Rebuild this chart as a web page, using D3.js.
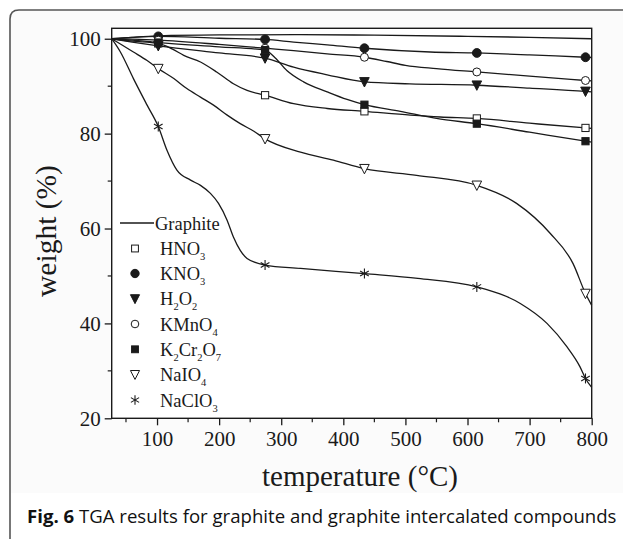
<!DOCTYPE html>
<html><head><meta charset="utf-8">
<script src="https://cdn.jsdelivr.net/npm/d3@7"></script>
<style>body{margin:0;background:#fff}svg{display:block}</style>
</head><body>
<svg id="c" width="623" height="539"></svg>
<script>
// ---------- data ----------
const xTicks = [100, 200, 300, 400, 500, 600, 700, 800];
const yTicks = [20, 40, 60, 80, 100];
const markerT = [102, 274, 434, 615, 790];

const graphiteCurve = [[27,100],[60,100.3],[102,100.6],[200,100.8],[330,100.85],[450,100.75],[600,100.5],[700,100.3],[800,100.0]];
const hno3Curve = [[27,100],[60,99.5],[102,99.0],[125,97.8],[143,96.5],[170,95.1],[196,93.0],[223,90.5],[245,89.1],[274,88.1],[320,86.3],[374,85.3],[434,84.7],[508,83.9],[556,83.5],[615,83.2],[700,82.2],[790,81.2],[800,81.1]];
const kno3Curve = [[27,100],[60,100.3],[102,100.5],[200,100.1],[274,99.85],[320,99.3],[374,98.7],[434,98.0],[540,97.2],[615,97.0],[700,96.6],[790,96.1],[800,96.05]];
const h2o2Curve = [[27,100],[60,99.3],[102,98.5],[200,97.0],[274,95.9],[320,94.0],[374,92.4],[434,90.9],[507,90.5],[615,90.2],[700,89.6],[790,88.9],[800,88.8]];
const kmno4Curve = [[27,100],[60,99.9],[102,99.7],[200,98.8],[274,98.0],[320,97.5],[374,96.8],[434,96.1],[470,95.2],[500,94.4],[550,93.7],[615,93.0],[700,92.1],[790,91.2],[800,91.1]];
const k2cr2o7Curve = [[27,100],[60,99.7],[102,99.2],[200,98.3],[274,97.6],[290,96.0],[309,93.3],[336,90.9],[374,88.8],[406,87.2],[434,86.1],[492,84.7],[550,83.2],[615,82.1],[700,80.3],[790,78.4],[800,78.2]];
const naio4Curve = [[27,100],[41,98.9],[62,97.2],[84,95.4],[102,93.7],[127,91.6],[148,89.5],[170,87.7],[191,86.0],[213,83.9],[234,82.1],[256,80.5],[274,78.9],[331,76.1],[384,74.4],[434,72.6],[518,71.2],[615,69.1],[679,65.3],[733,59.0],[770,52.6],[790,46.3],[800,43.8]];
const naclo3Curve = [[27,100],[41,97.2],[62,91.6],[84,86.0],[102,81.5],[116,76.5],[132,72.3],[154,70.2],[170,69.1],[186,67.4],[199,65.3],[213,61.7],[223,58.2],[234,55.4],[245,53.7],[274,52.3],[331,51.6],[434,50.5],[520,49.5],[615,47.7],[685,44.2],[728,40.0],[760,35.1],[781,30.9],[790,28.4],[800,26.5]];

const hno3Marks = [99.0, 88.1, 84.7, 83.2, 81.2];
const kno3Marks = [100.5, 99.85, 98.0, 97.0, 96.1];
const h2o2Marks = [98.5, 95.9, 90.9, 90.2, 88.9];
const kmno4Marks = [99.7, 98.0, 96.1, 93.0, 91.2];
const k2cr2o7Marks = [99.2, 97.6, 86.1, 82.1, 78.4];
const naio4Marks = [93.7, 78.9, 72.6, 69.1, 46.3];
const naclo3Marks = [81.5, 52.3, 50.5, 47.7, 28.4];

const series = [
  {name:"Graphite", parts:[["Graphite",""]], curve:graphiteCurve, marks:null, sym:"line"},
  {name:"HNO3", parts:[["HNO",""],["3","sub"]], curve:hno3Curve, marks:hno3Marks, sym:"squareOpen"},
  {name:"KNO3", parts:[["KNO",""],["3","sub"]], curve:kno3Curve, marks:kno3Marks, sym:"circleFill"},
  {name:"H2O2", parts:[["H",""],["2","sub"],["O",""],["2","sub"]], curve:h2o2Curve, marks:h2o2Marks, sym:"triFill"},
  {name:"KMnO4", parts:[["KMnO",""],["4","sub"]], curve:kmno4Curve, marks:kmno4Marks, sym:"circleOpen"},
  {name:"K2Cr2O7", parts:[["K",""],["2","sub"],["Cr",""],["2","sub"],["O",""],["7","sub"]], curve:k2cr2o7Curve, marks:k2cr2o7Marks, sym:"squareFill"},
  {name:"NaIO4", parts:[["NaIO",""],["4","sub"]], curve:naio4Curve, marks:naio4Marks, sym:"triOpen"},
  {name:"NaClO3", parts:[["NaClO",""],["3","sub"]], curve:naclo3Curve, marks:naclo3Marks, sym:"star"}
];

// ---------- drawing ----------
const svg = d3.select("#c");
const L = 111.7, R = 591.7, T = 28.3, B = 418.3;
const x = d3.scaleLinear().domain([27, 800]).range([L, R]);
const y = d3.scaleLinear().domain([20, 102.2]).range([B, T]);
const serif = "'Liberation Serif','Times New Roman',serif";
const ink = "#1a1a1a";

// faint figure background
svg.append("rect").attr("x",11).attr("y",11).attr("width",612).attr("height",482).attr("fill","#fbfbfb");

// outer frame
svg.append("path").attr("d", "M10,539 V19 Q10,10 19,10 H623")
  .attr("fill","none").attr("stroke","#555").attr("stroke-width",1.6);

// plot box
svg.append("rect").attr("x",L).attr("y",T).attr("width",R-L).attr("height",B-T)
  .attr("fill","#fff").attr("stroke",ink).attr("stroke-width",1.4);

// axes
const xAxis = d3.axisBottom(x).tickValues(xTicks).tickSize(7).tickPadding(6).tickFormat(d3.format("d"));
const gx = svg.append("g").attr("transform",`translate(0,${B})`).call(xAxis);
const yAxis = d3.axisLeft(y).tickValues(yTicks).tickSize(7).tickPadding(4).tickFormat(d3.format("d"));
const gy = svg.append("g").attr("transform",`translate(${L},0)`).call(yAxis);
[gx, gy].forEach(g => {
  g.attr("font-family", serif).attr("font-size", 21);
  g.select(".domain").remove();
  g.selectAll(".tick line").attr("stroke",ink).attr("stroke-width",1.3);
  g.selectAll(".tick text").style("font-family",serif).style("font-size","21px").attr("fill",ink);
});
// minor ticks
const xMinor = d3.range(50, 800, 100);
svg.append("g").selectAll("line").data(xMinor).join("line")
  .attr("x1",d=>x(d)).attr("x2",d=>x(d)).attr("y1",B).attr("y2",B+4)
  .attr("stroke",ink).attr("stroke-width",1.2);
const yMinor = [30, 50, 70, 90];
svg.append("g").selectAll("line").data(yMinor).join("line")
  .attr("y1",d=>y(d)).attr("y2",d=>y(d)).attr("x1",L).attr("x2",L-4)
  .attr("stroke",ink).attr("stroke-width",1.2);

// axis titles
svg.append("text").attr("x",360).attr("y",486).attr("text-anchor","middle")
  .style("font-family",serif).style("font-size","29px").attr("fill",ink).text("temperature (°C)");
svg.append("text").attr("transform",`translate(56,231) rotate(-90)`).attr("text-anchor","middle")
  .style("font-family",serif).style("font-size","29.5px").attr("fill",ink).text("weight (%)");

// curves
const line = d3.line().x(d=>x(d[0])).y(d=>y(d[1])).curve(d3.curveMonotoneX);
svg.append("g").selectAll("path").data(series).join("path")
  .attr("d", d=>line(d.curve)).attr("fill","none").attr("stroke",ink).attr("stroke-width",1.3);

// symbols
function drawSym(g, sym, cx, cy, s) {
  const k = s || 1;
  if (sym === "squareOpen" || sym === "squareFill") {
    g.append("rect").attr("x",cx-3.6*k).attr("y",cy-3.6*k).attr("width",7.2*k).attr("height",7.2*k)
      .attr("fill", sym==="squareFill"?ink:"#fff").attr("stroke",ink).attr("stroke-width",1);
  } else if (sym === "circleOpen" || sym === "circleFill") {
    g.append("circle").attr("cx",cx).attr("cy",cy).attr("r",(sym==="circleFill"?4.4:4.0)*k)
      .attr("fill", sym==="circleFill"?ink:"#fff").attr("stroke",ink).attr("stroke-width",1);
  } else if (sym === "triOpen" || sym === "triFill") {
    const w = 4.8*k, h = 4.3*k;
    g.append("path").attr("d",`M${cx-w},${cy-h} L${cx+w},${cy-h} L${cx},${cy+h+0.8*k} Z`)
      .attr("fill", sym==="triFill"?ink:"#fff").attr("stroke",ink).attr("stroke-width",1);
  } else if (sym === "star") {
    const r = 5*k;
    for (const a of [0, 60, 120]) {
      const rad = a*Math.PI/180;
      g.append("line").attr("x1",cx+r*Math.sin(rad)).attr("y1",cy-r*Math.cos(rad))
        .attr("x2",cx-r*Math.sin(rad)).attr("y2",cy+r*Math.cos(rad))
        .attr("stroke",ink).attr("stroke-width",1.1);
    }
  }
}
const gm = svg.append("g");
series.forEach(s => {
  if (!s.marks) return;
  s.marks.forEach((v,i) => drawSym(gm, s.sym, x(markerT[i]), y(v), 1));
});

// legend
const lg = svg.append("g");
const rowY = [223, 248.5, 273.5, 298.8, 324, 349.3, 374.6, 400];
series.forEach((s,i) => {
  const cy = rowY[i];
  if (s.sym === "line") {
    lg.append("line").attr("x1",120).attr("x2",154).attr("y1",cy).attr("y2",cy)
      .attr("stroke",ink).attr("stroke-width",1.5);
  } else {
    drawSym(lg, s.sym, 135, cy, 0.95);
  }
  const t = lg.append("text").attr("x", s.sym==="line"?155:160).attr("y",cy+6.5)
    .style("font-family",serif).style("font-size","18.5px").attr("fill",ink);
  let shifted = false;
  s.parts.forEach(p => {
    if (p[1]==="sub") {
      t.append("tspan").style("font-size","10.5px").attr("dy",5).text(p[0]);
      shifted = true;
    } else {
      t.append("tspan").attr("dy", shifted ? -5 : 0).text(p[0]);
      shifted = false;
    }
  });
});

// caption
const cap = svg.append("text").attr("x",27).attr("y",523)
  .style("font-family","'Open Sans','Noto Sans',sans-serif").style("font-size","18.6px").attr("fill","#111");
cap.append("tspan").attr("font-weight","bold").text("Fig. 6");
cap.append("tspan").text(" TGA results for graphite and graphite intercalated compounds");
</script>
</body></html>
